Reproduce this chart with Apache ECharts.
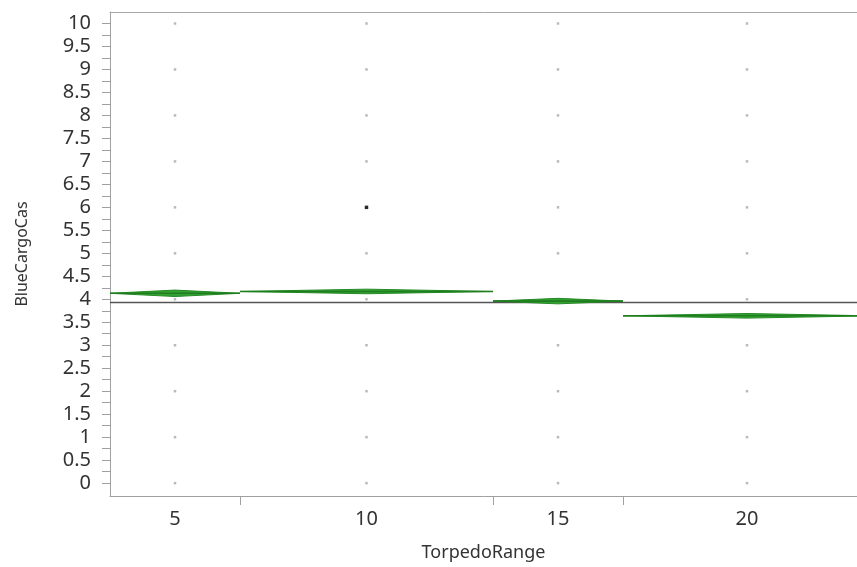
<!DOCTYPE html>
<html><head><meta charset="utf-8">
<script src="https://cdn.jsdelivr.net/npm/echarts@6/dist/echarts.min.js"></script>
<style>html,body{margin:0;padding:0;background:#fff}#c{width:857px;height:567px}</style>
</head><body><div id="c"></div>
<script>
// Data
const categories = ['5', '10', '15', '20'];
const groupWeights = [130, 253, 130, 248];      // relative group sizes (x-axis widths)
const xVisibleMax = 747;                         // axis range shown (last group is cut at the edge)
const groupMeans = [4.13, 4.17, 3.96, 3.64];
const groupCIHalf = [0.07, 0.05, 0.06, 0.05];
const grandMean = 3.93;
const pointValues = [0, 1, 2, 3, 4, 5, 6, 7, 8, 9, 10];
const highlightPoint = { cat: '10', value: 6 };
const yTickLabels = [0, 0.5, 1, 1.5, 2, 2.5, 3, 3.5, 4, 4.5, 5, 5.5, 6, 6.5, 7, 7.5, 8, 8.5, 9, 9.5, 10];

// derived boundaries
const bounds = [0];
groupWeights.forEach(w => bounds.push(bounds[bounds.length - 1] + w));
const centers = categories.map((c, i) => (bounds[i] + bounds[i + 1]) / 2);
const minorTicks = [];
for (let v = 0; v <= 40; v++) minorTicks.push(v / 4);

const FONT = 'Noto Sans';
const chart = echarts.init(document.getElementById('c'));

const diamondData = categories.map((c, i) => [bounds[i], bounds[i + 1], groupMeans[i], groupCIHalf[i]]);
const pts = [];
categories.forEach((c, i) => pointValues.forEach(v => pts.push([centers[i], v])));
const hi = [[centers[categories.indexOf(highlightPoint.cat)], highlightPoint.value]];

chart.setOption({
  animation: false,
  grid: { left: 110, top: 12, right: 0, bottom: 67 },
  xAxis: [{
    type: 'value', min: 0, max: xVisibleMax,
    name: 'TorpedoRange', nameLocation: 'middle', nameGap: 48,
    nameTextStyle: { fontFamily: FONT, fontSize: 18, color: '#333' },
    axisLine: { show: true, onZero: false, lineStyle: { color: '#a0a0a0' } },
    axisTick: { show: true, customValues: bounds.slice(1, -1), length: 9, lineStyle: { color: '#a0a0a0' } },
    axisLabel: {
      customValues: centers, margin: 13,
      formatter: v => categories[centers.indexOf(v)] ?? '',
      fontFamily: FONT, fontSize: 20, color: '#333'
    },
    splitLine: { show: false }
  }, {
    type: 'value', position: 'top', min: 0, max: xVisibleMax,
    axisLine: { show: true, onZero: false, lineStyle: { color: '#a8a8a8' } },
    axisTick: { show: false }, axisLabel: { show: false }, splitLine: { show: false }
  }],
  yAxis: {
    type: 'value', min: -0.28, max: 10.25,
    name: 'BlueCargoCas', nameLocation: 'middle', nameGap: 80,
    nameTextStyle: { fontFamily: FONT, fontSize: 16, color: '#333' },
    axisLine: { show: true, onZero: false, lineStyle: { color: '#a0a0a0' } },
    axisTick: { show: true, customValues: minorTicks, length: 8, lineStyle: { color: '#a0a0a0' } },
    axisLabel: {
      customValues: yTickLabels, margin: 19,
      fontFamily: FONT, fontSize: 20, color: '#333', lineHeight: 14
    },
    splitLine: { show: false }
  },
  series: [
    {
      type: 'scatter', data: pts, symbol: 'rect', symbolSize: 2.5,
      itemStyle: { color: '#a9a9a9' }, silent: true, z: 1
    },
    {
      type: 'line', data: [[0, grandMean], [xVisibleMax, grandMean]], symbol: 'none',
      lineStyle: { color: '#555', width: 1.3 }, silent: true, z: 3
    },
    {
      type: 'custom', data: diamondData, z: 4, clip: true,
      renderItem: (params, api) => {
        const l = api.value(0), r = api.value(1), m = api.value(2), h = api.value(3);
        const c = (l + r) / 2;
        const pL = api.coord([l, m]), pR = api.coord([r, m]);
        const pT = api.coord([c, m + h]), pB = api.coord([c, m - h]);
        return {
          type: 'group', children: [
            { type: 'polygon', shape: { points: [pL, pT, pR, pB] }, style: { fill: '#34a034', stroke: '#248a24', lineWidth: 1 } },
            { type: 'line', shape: { x1: pL[0], y1: pL[1], x2: pR[0], y2: pR[1] }, style: { stroke: '#1e7e1e', lineWidth: 1.6 } }
          ]
        };
      }
    },
    {
      type: 'scatter', data: hi, symbol: 'rect', symbolSize: 3.5,
      itemStyle: { color: '#000' }, silent: true, z: 5
    }
  ]
});
</script></body></html>
